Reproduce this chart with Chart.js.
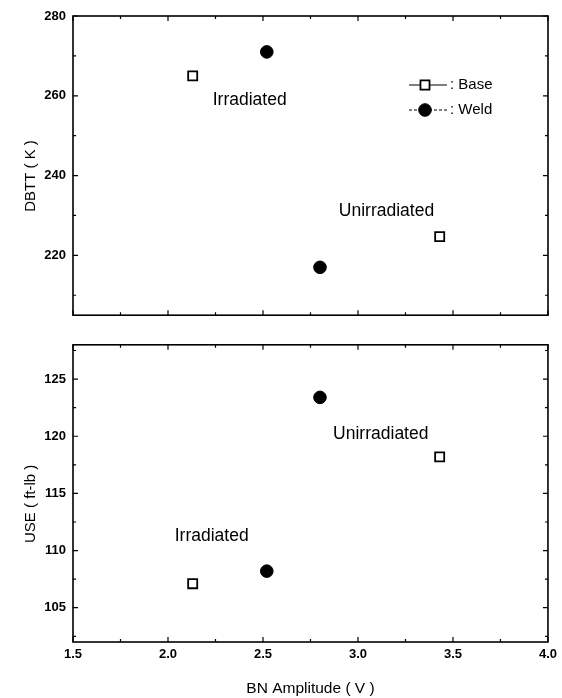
<!DOCTYPE html>
<html>
<head>
<meta charset="utf-8">
<script src="https://cdn.jsdelivr.net/npm/chart.js@4.4.1/dist/chart.umd.min.js"></script>
<style>
body { margin: 0; background: #fff; }
#wrap { position: relative; width: 562px; height: 698px; }
#topChart, #bottomChart { position: absolute; left: 0; }
#topChart { top: 0; }
#bottomChart { top: 330px; }
</style>
</head>
<body>
<div id="wrap">
  <canvas id="topChart" width="562" height="330"></canvas>
  <canvas id="bottomChart" width="562" height="368"></canvas>
</div>
<script>
// values
const baseAmp = [2.13, 3.43];
const weldAmp = [2.52, 2.80];
const baseDBTT = [265.0, 224.7];
const weldDBTT = [271.0, 217.0];
const baseUSE = [107.1, 118.2];
const weldUSE = [108.2, 123.4];

const xTicks = [1.5, 2.0, 2.5, 3.0, 3.5, 4.0];
const dbttTicks = [220, 240, 260, 280];
const useTicks = [105, 110, 115, 120, 125];

// the two text notes in each panel
const noteText = ['Irradiated', 'Unirradiated'];
const dbttNoteX = [2.43, 3.15];
const dbttNoteY = [258.8, 231.0];
const useNoteX = [2.23, 3.12];
const useNoteY = [111.3, 120.15];

const FONT = 'Liberation Sans, Arial, Helvetica, sans-serif';
Chart.defaults.font.family = FONT;
Chart.defaults.color = '#000';

// trailing spaces push the rotated y titles a bit lower, like the original
const PAD = '\u00a0\u00a0\u00a0\u00a0\u00a0';

function pts(xs, ys) {
    return xs.map((x, i) => ({x: x, y: ys[i]}));
}

function makeSets(baseY, weldY) {
    return [{
        label: 'Base',
        data: pts(baseAmp, baseY),
        pointStyle: 'rect',
        pointRadius: 6.4,
        pointHoverRadius: 6.4,
        borderWidth: 1.8,
        borderColor: '#000',
        backgroundColor: '#fff',
        showLine: false
    }, {
        label: 'Weld',
        data: pts(weldAmp, weldY),
        pointStyle: 'circle',
        pointRadius: 6.3,
        pointHoverRadius: 6.3,
        borderWidth: 1,
        borderColor: '#000',
        backgroundColor: '#000',
        showLine: false
    }];
}

// box round the plot with inward major + minor ticks on all 4 sides
const framePlugin = {
    id: 'frame',
    afterDatasetsDraw(chart) {
        const ctx = chart.ctx;
        const a = chart.chartArea;
        ctx.save();
        ctx.strokeStyle = '#000';
        ctx.lineWidth = 1.6;
        ctx.strokeRect(a.left, a.top, a.right - a.left, a.bottom - a.top);
        ctx.lineWidth = 1.2;

        ['x', 'y'].forEach(id => {
            const sc = chart.scales[id];
            const vals = sc.ticks.map(t => t.value);
            const step = vals[1] - vals[0];
            const minors = [];
            for (let i = 0; i < vals.length - 1; i++) minors.push((vals[i] + vals[i + 1]) / 2);
            if (vals[0] - step / 2 >= sc.min) minors.push(vals[0] - step / 2);
            if (vals[vals.length - 1] + step / 2 <= sc.max) minors.push(vals[vals.length - 1] + step / 2);
            const marks = vals.map(v => [v, 5]).concat(minors.map(v => [v, 3]));
            ctx.beginPath();
            marks.forEach(([v, len]) => {
                const p = sc.getPixelForValue(v);
                if (id === 'x') {
                    ctx.moveTo(p, a.bottom); ctx.lineTo(p, a.bottom - len);
                    ctx.moveTo(p, a.top); ctx.lineTo(p, a.top + len);
                } else {
                    ctx.moveTo(a.left, p); ctx.lineTo(a.left + len, p);
                    ctx.moveTo(a.right, p); ctx.lineTo(a.right - len, p);
                }
            });
            ctx.stroke();
        });
        ctx.restore();
    }
};

const notesPlugin = {
    id: 'notes',
    afterDatasetsDraw(chart, args, opts) {
        const ctx = chart.ctx;
        ctx.save();
        ctx.font = '17.5px ' + FONT;
        ctx.fillStyle = '#000';
        ctx.textAlign = 'center';
        ctx.textBaseline = 'middle';
        opts.text.forEach((t, i) => {
            ctx.fillText(t, chart.scales.x.getPixelForValue(opts.x[i]), chart.scales.y.getPixelForValue(opts.y[i]));
        });
        ctx.restore();
    }
};

const keyPlugin = {
    id: 'key',
    afterDatasetsDraw(chart) {
        const ctx = chart.ctx;
        const a = chart.chartArea;
        const x0 = a.right - 139;
        const y0 = a.top + 69;
        chart.data.datasets.forEach((ds, i) => {
            const y = y0 + i * 25;
            ctx.save();
            ctx.strokeStyle = '#000';
            ctx.lineWidth = 1.1;
            ctx.setLineDash(i ? [3, 2] : []);
            ctx.beginPath();
            ctx.moveTo(x0, y); ctx.lineTo(x0 + 38, y);
            ctx.stroke();
            ctx.setLineDash([]);
            ctx.fillStyle = ds.backgroundColor;
            ctx.strokeStyle = ds.borderColor;
            ctx.lineWidth = ds.borderWidth;
            Chart.helpers.drawPoint(ctx, {pointStyle: ds.pointStyle, radius: ds.pointRadius, borderWidth: ds.borderWidth}, x0 + 16, y);
            ctx.fillStyle = '#000';
            ctx.font = '15px ' + FONT;
            ctx.textBaseline = 'middle';
            ctx.fillText(': ' + ds.label, x0 + 41, y);
            ctx.restore();
        });
    }
};

function makeOptions(yMin, yMax, yTicks, yTitle, bottomPanel, notes) {
    return {
        responsive: false,
        animation: false,
        devicePixelRatio: 1,
        layout: {padding: {top: bottomPanel ? 13 : 16, right: 14, left: 0, bottom: 0}},
        scales: {
            x: {
                type: 'linear',
                min: 1.5,
                max: 4.0,
                grid: {display: false, drawTicks: false},
                border: {display: false},
                afterBuildTicks: sc => { sc.ticks = xTicks.map(v => ({value: v})); },
                afterFit: sc => { sc.height = bottomPanel ? 56 : 12; },
                ticks: {
                    display: bottomPanel,
                    padding: 5,
                    font: {size: 13, weight: 'bold'},
                    callback: v => v.toFixed(1)
                },
                title: {
                    display: bottomPanel,
                    text: 'BN Amplitude ( V )',
                    font: {size: 15.5},
                    padding: {top: 0, bottom: 0}
                }
            },
            y: {
                min: yMin,
                max: yMax,
                grid: {display: false, drawTicks: false},
                border: {display: false},
                afterBuildTicks: sc => { sc.ticks = yTicks.map(v => ({value: v})); },
                afterFit: sc => { sc.width = 73; },
                ticks: {padding: 7, font: {size: 13, weight: 'bold'}},
                title: {
                    display: true,
                    text: yTitle + PAD,
                    font: {size: 15},
                    padding: {top: 22, bottom: 0}
                }
            }
        },
        plugins: {
            legend: {display: false},
            tooltip: {enabled: false},
            notes: notes
        }
    };
}

new Chart(document.getElementById('topChart').getContext('2d'), {
    type: 'scatter',
    data: {datasets: makeSets(baseDBTT, weldDBTT)},
    options: makeOptions(205, 280, dbttTicks, 'DBTT ( K )', false, {text: noteText, x: dbttNoteX, y: dbttNoteY}),
    plugins: [framePlugin, notesPlugin, keyPlugin]
});

new Chart(document.getElementById('bottomChart').getContext('2d'), {
    type: 'scatter',
    data: {datasets: makeSets(baseUSE, weldUSE)},
    options: makeOptions(102, 128, useTicks, 'USE ( ft-lb )', true, {text: noteText, x: useNoteX, y: useNoteY}),
    plugins: [framePlugin, notesPlugin]
});
</script>
</body>
</html>
